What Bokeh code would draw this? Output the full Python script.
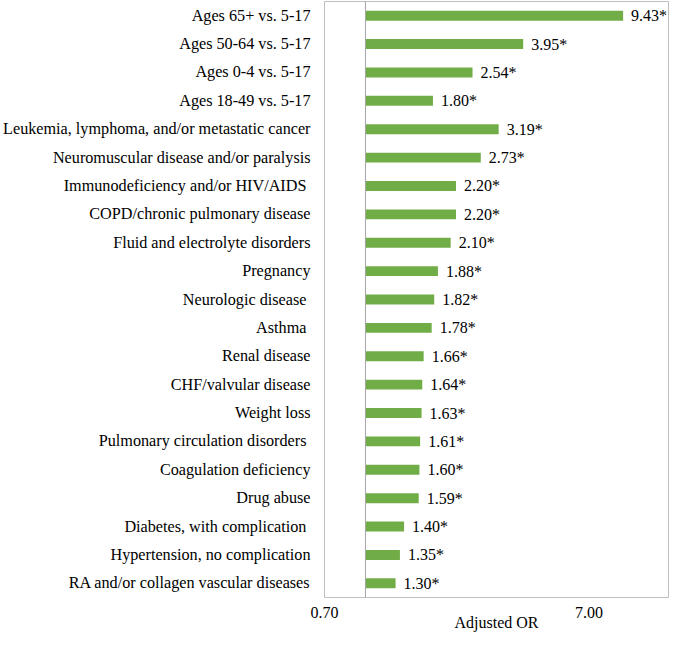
from bokeh.plotting import figure
from bokeh.models import ColumnDataSource, FactorRange, Range1d, Span, FixedTicker, CustomJSTickFormatter
from bokeh.core.properties import value
from bokeh.embed import file_html
from bokeh.resources import INLINE

categories = [
    "Ages 65+ vs. 5-17",
    "Ages 50-64 vs. 5-17",
    "Ages 0-4 vs. 5-17",
    "Ages 18-49 vs. 5-17",
    "Leukemia, lymphoma, and/or metastatic cancer",
    "Neuromuscular disease and/or paralysis",
    "Immunodeficiency and/or HIV/AIDS ",
    "COPD/chronic pulmonary disease",
    "Fluid and electrolyte disorders",
    "Pregnancy",
    "Neurologic disease ",
    "Asthma ",
    "Renal disease",
    "CHF/valvular disease",
    "Weight loss",
    "Pulmonary circulation disorders ",
    "Coagulation deficiency",
    "Drug abuse",
    "Diabetes, with complication ",
    "Hypertension, no complication",
    "RA and/or collagen vascular diseases",
]
values = [9.43, 3.95, 2.54, 1.80, 3.19, 2.73, 2.20, 2.20, 2.10, 1.88, 1.82,
          1.78, 1.66, 1.64, 1.63, 1.61, 1.60, 1.59, 1.40, 1.35, 1.30]
labels = [f"{v:.2f}*" for v in values]
x_ticks = [0.7, 7.0]
x_title = "Adjusted OR"

FONT = "Liberation Serif"
FS = "16px"

src = ColumnDataSource(dict(cat=categories, val=values, left=[1.0] * len(values), lab=labels))

p = figure(
    width=669, height=633,
    y_range=FactorRange(factors=list(reversed(categories)), range_padding=0),
    x_range=Range1d(0.7, 14.0),
    x_axis_type="log",
    output_backend="svg", toolbar_location=None,
    min_border_left=324, min_border_right=1, min_border_top=1, min_border_bottom=0,
)

p.hbar(y="cat", left="left", right="val", height=0.35, source=src,
       fill_color="#70AD47", line_color=None)

p.text(x="val", y="cat", text="lab", source=src, x_offset=8,
       text_baseline="middle", text_align="left", text_font=value(FONT),
       text_font_size=value(FS), text_color="black")

p.add_layout(Span(location=1.0, dimension="height", line_color="#a6a6a6", line_width=1))

p.outline_line_color = "#bfbfbf"
p.outline_line_width = 1
p.xgrid.visible = False
p.ygrid.visible = False

p.yaxis.axis_line_color = None
p.yaxis.major_tick_line_color = None
p.yaxis.minor_tick_line_color = None
p.yaxis.major_tick_out = 0
p.yaxis.major_label_standoff = 14
p.yaxis.major_label_text_font = FONT
p.yaxis.major_label_text_font_size = "16.2px"
p.yaxis.major_label_text_color = "black"

p.xaxis.ticker = FixedTicker(ticks=x_ticks, minor_ticks=[])
p.xaxis.formatter = CustomJSTickFormatter(code="return tick.toFixed(2);")
p.xaxis.axis_line_color = None
p.xaxis.major_tick_line_color = None
p.xaxis.minor_tick_line_color = None
p.xaxis.major_tick_out = 0
p.xaxis.major_label_standoff = 9
p.xaxis.major_label_text_font = FONT
p.xaxis.major_label_text_font_size = FS
p.xaxis.major_label_text_color = "black"
p.xaxis.axis_label = x_title
p.xaxis.axis_label_text_font = FONT
p.xaxis.axis_label_text_font_size = FS
p.xaxis.axis_label_text_font_style = "normal"
p.xaxis.axis_label_text_color = "black"
p.xaxis.axis_label_standoff = -7

open("out.html", "w").write(file_html(p, INLINE))
